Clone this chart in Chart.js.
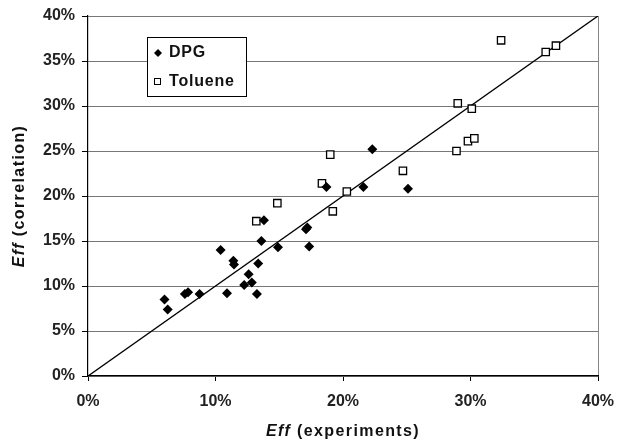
<!DOCTYPE html>
<html>
<head>
<meta charset="utf-8">
<script src="https://cdn.jsdelivr.net/npm/chart.js@4"></script>
<style>
  html, body { margin: 0; padding: 0; background: #fff; }
</style>
</head>
<body>
<canvas id="chart" width="620" height="443"></canvas>
<script>
// Eff values in percent
const dpgExp  = [6.0, 6.25, 7.6, 7.85, 8.75, 10.4, 10.9, 11.4, 11.45, 12.25, 12.6, 12.85, 13.25, 13.35, 13.6, 13.8, 14.9, 17.1, 17.2, 17.35, 18.7, 21.6, 22.3, 25.1];
const dpgCorr = [8.5, 7.4, 9.1, 9.3, 9.1, 14.0, 9.2, 12.8, 12.4, 10.1, 11.3, 10.4, 9.1, 12.5, 15.0, 17.3, 14.3, 16.3, 16.5, 14.4, 21.0, 21.0, 25.2, 20.8];

const tolExp  = [13.2, 14.85, 18.35, 19.0, 19.2, 20.3, 24.7, 28.9, 29.0, 29.8, 30.1, 30.3, 32.4, 35.9, 36.7];
const tolCorr = [17.2, 19.2, 21.4, 24.6, 18.3, 20.5, 22.8, 25.0, 30.3, 26.1, 29.7, 26.4, 37.3, 36.0, 36.7];

const parityLine = [0, 40];

const FONT = '"Liberation Sans", Arial, sans-serif';

function pts(xs, ys) {
    return xs.map((x, i) => ({ x: x, y: ys[i] }))
}

const legendBox = {
    id: 'legendBox',
    afterDraw(chart) {
        const ctx = chart.ctx;
        const a = chart.chartArea;
        const bx = a.left + 59, by = a.top + 21, bw = 99, bh = 59;
        ctx.save();
        ctx.fillStyle = '#fff';
        ctx.fillRect(bx, by, bw, bh);
        ctx.strokeStyle = '#000';
        ctx.lineWidth = 1;
        ctx.strokeRect(bx + 0.5, by + 0.5, bw, bh);

        // diamond
        ctx.fillStyle = '#000';
        ctx.beginPath();
        const dx = bx + 11, dy = by + 16;
        ctx.moveTo(dx, dy - 4); ctx.lineTo(dx + 4, dy); ctx.lineTo(dx, dy + 4); ctx.lineTo(dx - 4, dy);
        ctx.closePath();
        ctx.fill();

        // square
        ctx.lineWidth = 1;
        ctx.strokeRect(bx + 7.5, by + 41.5, 6, 6);

        ctx.font = 'bold 16px ' + FONT;
        ctx.letterSpacing = '0.8px';
        ctx.fillStyle = '#111';
        ctx.textBaseline = 'middle';
        ctx.fillText('DPG', bx + 22, by + 16);
        ctx.fillText('Toluene', bx + 22, by + 45);
        ctx.restore();
    }
}

function drawMixed(ctx, parts, cx, cy) {
    let total = 0;
    parts.forEach(p => { ctx.font = p.font; total += ctx.measureText(p.text).width; });
    let x = cx - total / 2;
    parts.forEach(p => {
        ctx.font = p.font;
        ctx.fillText(p.text, x, cy);
        x += ctx.measureText(p.text).width;
    });
}

const axisTitles = {
    id: 'axisTitles',
    afterDraw(chart) {
        const ctx = chart.ctx;
        const a = chart.chartArea;
        ctx.save();
        ctx.fillStyle = '#111';
        ctx.textBaseline = 'middle';
        ctx.textAlign = 'left';
        ctx.letterSpacing = '1.4px';
        drawMixed(ctx, [
            { text: 'Eff', font: 'italic bold 16px ' + FONT },
            { text: ' (experiments)', font: 'bold 16px ' + FONT }
        ], (a.left + a.right) / 2, 432);

        ctx.translate(20, (a.top + a.bottom) / 2);
        ctx.rotate(-Math.PI / 2);
        drawMixed(ctx, [
            { text: 'Eff', font: 'italic bold 16px ' + FONT },
            { text: ' (correlation)', font: 'bold 16px ' + FONT }
        ], 0, 0);
        ctx.restore();
    }
}

const tickFont = { family: FONT, size: 16, weight: 'bold' };

new Chart(document.getElementById('chart'), {
    type: 'scatter',
    data: {
        datasets: [
            {
                label: 'DPG',
                data: pts(dpgExp, dpgCorr),
                pointStyle: 'rectRot',
                pointRadius: 5,
                backgroundColor: '#000',
                borderColor: '#000',
                borderWidth: 0,
                order: 1
            },
            {
                label: 'Toluene',
                data: pts(tolExp, tolCorr),
                pointStyle: 'rect',
                pointRadius: 5.2,
                backgroundColor: '#fff',
                borderColor: '#000',
                borderWidth: 1.3,
                order: 2
            },
            {
                type: 'line',
                label: 'y = x',
                data: pts(parityLine, parityLine),
                borderColor: '#000',
                borderWidth: 1.4,
                pointRadius: 0,
                order: 3
            }
        ]
    },
    options: {
        responsive: false,
        animation: false,
        devicePixelRatio: 1,
        layout: { padding: { left: 0, right: 22, top: 16, bottom: 0 } },
        plugins: {
            legend: { display: false },
            tooltip: { enabled: false }
        },
        scales: {
            x: {
                type: 'linear',
                min: 0, max: 40,
                afterFit: s => { s.height = 67; s.paddingLeft = 0; s.paddingRight = 0 },
                ticks: {
                    stepSize: 10,
                    font: tickFont,
                    color: '#222',
                    padding: 11,
                    callback: v => v + '%'
                },
                grid: {
                    color: c => c.tick && c.tick.value === 40 ? '#888' : 'transparent',
                    tickColor: '#000',
                    tickLength: 5,
                    lineWidth: 1
                },
                border: { color: '#000', width: 1.2 }
            },
            y: {
                min: 0, max: 40,
                afterFit: s => { s.width = 88; s.paddingTop = 0; s.paddingBottom = 0 },
                ticks: {
                    stepSize: 5,
                    font: tickFont,
                    color: '#222',
                    padding: 7,
                    callback: v => v + '%'
                },
                grid: {
                    color: '#777',
                    tickColor: '#000',
                    tickLength: 6,
                    lineWidth: 1
                },
                border: { color: '#000', width: 1.2 }
            }
        }
    },
    plugins: [legendBox, axisTitles]
});
</script>
</body>
</html>
